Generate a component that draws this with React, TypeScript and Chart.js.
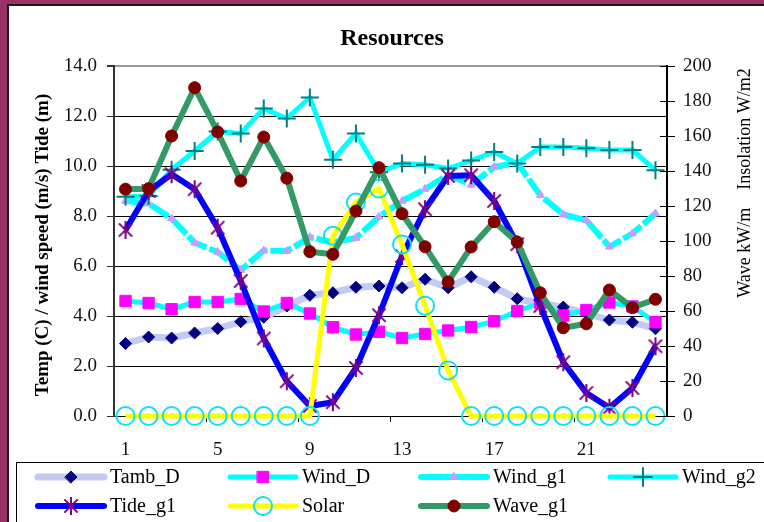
import React, { useEffect, useRef } from 'react';
import { Chart, registerables } from 'chart.js';
import { drawPoint } from 'chart.js/helpers';

Chart.register(...registerables);

const hours = ['1','2','3','4','5','6','7','8','9','10','11','12','13','14','15','16','17','18','19','20','21','22','23','24'];

const tambD = [2.9, 3.16, 3.12, 3.32, 3.5, 3.77, 3.95, 4.4, 4.83, 4.93, 5.15, 5.2, 5.13, 5.47, 5.13, 5.57, 5.15, 4.69, 4.5, 4.36, 4.1, 3.84, 3.75, 3.49];
const windD = [4.6, 4.52, 4.27, 4.56, 4.56, 4.68, 4.18, 4.52, 4.1, 3.55, 3.26, 3.37, 3.12, 3.28, 3.42, 3.56, 3.79, 4.2, 4.52, 4.02, 4.24, 4.54, 4.38, 3.75];
const windG1 = [8.6, 8.5, 7.9, 6.93, 6.56, 5.84, 6.62, 6.6, 7.15, 6.95, 7.12, 7.97, 8.6, 9.08, 9.65, 9.25, 9.96, 10.13, 8.83, 8.06, 7.83, 6.77, 7.3, 8.1];
const windG2 = [8.77, 8.8, 9.85, 10.6, 11.38, 11.3, 12.3, 11.9, 12.74, 10.25, 11.3, 9.75, 10.1, 10.05, 9.9, 10.22, 10.56, 10.1, 10.76, 10.76, 10.71, 10.64, 10.64, 9.83];
const tideG1 = [7.44, 9.0, 9.67, 9.07, 7.53, 5.4, 3.1, 1.39, 0.4, 0.55, 1.92, 4.03, 6.4, 8.27, 9.6, 9.63, 8.6, 6.87, 4.4, 2.15, 0.92, 0.33, 1.12, 2.79];
const solar = [0, 0, 0, 0, 0, 0, 0, 0, 0, 103, 122, 130, 98, 63, 26, 0, 0, 0, 0, 0, 0, 0, 0, 0];
const waveG1 = [129.6, 129.9, 160, 187.6, 162.3, 134.3, 159.4, 135.9, 93.9, 92.4, 117.1, 141.9, 115.6, 96.7, 76.6, 96.6, 111, 99.4, 70.4, 50.4, 52.7, 72, 61.9, 66.7];

const leftTicks = [0, 2, 4, 6, 8, 10, 12, 14];
const rightTicks = [0, 20, 40, 60, 80, 100, 120, 140, 160, 180, 200];

const seriesNames = ['Tamb_D', 'Wind_D', 'Wind_g1', 'Wind_g2', 'Tide_g1', 'Solar', 'Wave_g1'];

const titleText = 'Resources';
const leftTitle = 'Temp (C) / wind speed (m/s) Tide (m)';
const rightTitle = 'Wave kW/m    Insolation W/m2';

const FONT = "'Liberation Serif', 'Times New Roman', serif";

function makeAsterisk(r: number, color: string, lw: number) {
  const c = document.createElement('canvas');
  const s = Math.ceil(2 * r + lw + 2);
  c.width = s;
  c.height = s;
  const g = c.getContext('2d')!;
  const m = s / 2;
  g.strokeStyle = color;
  g.lineWidth = lw;
  g.beginPath();
  g.moveTo(m, m - r);
  g.lineTo(m, m + r);
  const d = r * 0.74;
  g.moveTo(m - d, m - d);
  g.lineTo(m + d, m + d);
  g.moveTo(m - d, m + d);
  g.lineTo(m + d, m - d);
  g.stroke();
  return c;
}

const framePlugin = {
  id: 'frame',
  beforeDraw(chart: any) {
    const ctx = chart.ctx;
    const W = chart.width, H = chart.height;
    ctx.save();
    ctx.fillStyle = '#993366';
    ctx.fillRect(0, 0, W, H);
    ctx.fillStyle = '#1a1a1a';
    ctx.fillRect(7, 4, W, H);
    ctx.fillStyle = '#ffffff';
    ctx.fillRect(9, 6, W, H);
    ctx.restore();
  },
};

const decorPlugin = {
  id: 'decor',
  afterDraw(chart: any) {
    const ctx = chart.ctx;
    const ca = chart.chartArea;
    ctx.save();
    // title
    ctx.fillStyle = '#000';
    ctx.font = `bold 24px ${FONT}`;
    ctx.textAlign = 'center';
    ctx.textBaseline = 'alphabetic';
    ctx.fillText(titleText, 392, 45);

    // left axis title
    ctx.save();
    ctx.translate(43, 245);
    ctx.rotate(-Math.PI / 2);
    ctx.font = `bold 19px ${FONT}`;
    ctx.textAlign = 'center';
    ctx.textBaseline = 'middle';
    ctx.fillText(leftTitle, 0, 0);
    ctx.restore();

    // right axis title
    ctx.save();
    ctx.translate(745, 183);
    ctx.rotate(-Math.PI / 2);
    ctx.font = `18px ${FONT}`;
    ctx.textAlign = 'center';
    ctx.textBaseline = 'middle';
    ctx.fillText(rightTitle, 0, 0);
    ctx.restore();

    // right axis inner tick stubs
    const y1 = chart.scales.y1;
    ctx.strokeStyle = '#000';
    ctx.lineWidth = 1;
    ctx.beginPath();
    rightTicks.forEach((v) => {
      const y = Math.round(y1.getPixelForValue(v)) + 0.5;
      ctx.moveTo(ca.right - 7, y);
      ctx.lineTo(ca.right, y);
    });
    ctx.stroke();

    // legend
    ctx.strokeStyle = '#000';
    ctx.lineWidth = 1;
    ctx.strokeRect(16.5, 462.5, 800, 100);
    const cols = [35, 227, 418, 607];
    const rows = [477, 506];
    const sampleLen = 72;
    chart.data.datasets.forEach((ds: any, i: number) => {
      const x0 = cols[i % 4];
      const y = rows[Math.floor(i / 4)];
      ctx.save();
      ctx.strokeStyle = ds.borderColor;
      ctx.lineWidth = ds.borderWidth;
      ctx.lineCap = 'round';
      ctx.setLineDash(ds.borderDash || []);
      ctx.beginPath();
      ctx.moveTo(x0 + 3, y);
      ctx.lineTo(x0 + sampleLen - 3, y);
      ctx.stroke();
      ctx.setLineDash([]);
      ctx.fillStyle = ds.pointBackgroundColor;
      ctx.strokeStyle = ds.pointBorderColor;
      ctx.lineWidth = ds.pointBorderWidth;
      drawPoint(ctx, { pointStyle: ds.pointStyle, radius: ds.pointRadius, rotation: 0, borderWidth: ds.pointBorderWidth }, x0 + sampleLen / 2, y);
      ctx.restore();
      ctx.fillStyle = '#000';
      ctx.font = `20px ${FONT}`;
      ctx.textAlign = 'left';
      ctx.textBaseline = 'middle';
      ctx.fillText(ds.label, x0 + sampleLen + 3, y + 1);
    });
    ctx.restore();
  },
};

export default function App() {
  const ref = useRef<HTMLCanvasElement | null>(null);

  useEffect(() => {
    if (!ref.current) return;
    const asterisk = makeAsterisk(9, '#800080', 2);
    const common = { fill: false, tension: 0, clip: false as any, borderJoinStyle: 'round' as const };
    const chart = new Chart(ref.current, {
      type: 'line',
      data: {
        labels: hours,
        datasets: [
          { ...common, label: seriesNames[0], data: tambD, yAxisID: 'y', borderColor: '#C3CBF3', borderWidth: 7, pointStyle: 'rectRot', pointRadius: 6, pointBackgroundColor: '#000080', pointBorderColor: '#000080', pointBorderWidth: 1, order: 7 },
          { ...common, label: seriesNames[1], data: windD, yAxisID: 'y', borderColor: '#00FFFF', borderWidth: 5, pointStyle: 'rect', pointRadius: 8, pointBackgroundColor: '#FF00FF', pointBorderColor: '#FF00FF', pointBorderWidth: 1, order: 6 },
          { ...common, label: seriesNames[2], data: windG1, yAxisID: 'y', borderColor: '#00FFFF', borderWidth: 6, borderDash: [22, 3], pointStyle: 'triangle', pointRadius: 4.5, pointBackgroundColor: '#CC99FF', pointBorderColor: '#CC99FF', pointBorderWidth: 1, order: 5 },
          { ...common, label: seriesNames[3], data: windG2, yAxisID: 'y', borderColor: '#00FFFF', borderWidth: 5, pointStyle: 'cross', pointRadius: 9, pointBackgroundColor: '#008080', pointBorderColor: '#008080', pointBorderWidth: 2, order: 4 },
          { ...common, label: seriesNames[4], data: tideG1, yAxisID: 'y', borderColor: '#0000FF', borderWidth: 6, pointStyle: asterisk as any, pointRadius: 9, pointBackgroundColor: '#800080', pointBorderColor: '#800080', pointBorderWidth: 2, order: 3 },
          { ...common, label: seriesNames[5], data: solar, yAxisID: 'y1', borderColor: '#FFFF00', borderWidth: 5, pointStyle: 'circle', pointRadius: 9, pointBackgroundColor: 'rgba(0,0,0,0)', pointBorderColor: '#10E0F0', pointBorderWidth: 2, order: 2 },
          { ...common, label: seriesNames[6], data: waveG1, yAxisID: 'y1', borderColor: '#339966', borderWidth: 6, pointStyle: 'circle', pointRadius: 6, pointBackgroundColor: '#800000', pointBorderColor: '#800000', pointBorderWidth: 1, order: 1 },
        ] as any,
      },
      options: {
        responsive: false,
        animation: false,
        devicePixelRatio: 1,
        layout: { padding: { top: 66, left: 0, right: 0, bottom: 0 } },
        plugins: { legend: { display: false }, title: { display: false }, tooltip: { enabled: false } },
        scales: {
          x: {
            type: 'category',
            offset: true,
            afterFit: (s: any) => { s.height = 106; },
            grid: {
              offset: true,
              drawOnChartArea: false,
              drawTicks: true,
              tickLength: 6,
              color: (c: any) => (c.index % 4 === 0 && c.index > 0 && c.index < 24 ? '#000' : 'rgba(0,0,0,0)'),
            },
            border: { display: true, color: '#000', width: 1 },
            ticks: {
              autoSkip: false,
              maxRotation: 0,
              minRotation: 0,
              padding: 17,
              color: '#111',
              font: { family: FONT, size: 19 },
              callback: (_v: any, i: number) => (i % 4 === 0 ? hours[i] : ''),
            },
          },
          y: {
            position: 'left',
            min: 0,
            max: 14,
            afterFit: (s: any) => { s.width = 114; },
            afterBuildTicks: (s: any) => { s.ticks = leftTicks.map((v) => ({ value: v })); },
            grid: {
              color: (c: any) => (c.tick && c.tick.value === 14 ? '#9a9a9a' : '#000'),
              lineWidth: (c: any) => (c.tick && c.tick.value === 14 ? 2 : 1),
              tickColor: '#333',
              tickLength: 7,
            },
            border: { display: true, color: '#333', width: 2 },
            ticks: {
              padding: 10,
              color: '#111',
              font: { family: FONT, size: 19 },
              callback: (v: any) => Number(v).toFixed(1),
            },
          },
          y1: {
            position: 'right',
            min: 0,
            max: 200,
            afterFit: (s: any) => { s.width = 97; },
            afterBuildTicks: (s: any) => { s.ticks = rightTicks.map((v) => ({ value: v })); },
            grid: { drawOnChartArea: false, color: '#000', tickLength: 8 },
            border: { display: true, color: '#000', width: 2 },
            ticks: {
              padding: 8,
              color: '#111',
              font: { family: FONT, size: 19 },
              callback: (v: any) => String(v),
            },
          },
        },
      } as any,
      plugins: [framePlugin, decorPlugin],
    });
    return () => chart.destroy();
  }, []);

  return (
    <div style={{ position: 'fixed', left: 0, top: 0, width: 764, height: 522, overflow: 'hidden', background: '#993366' }}>
      <canvas ref={ref} width={764} height={522} style={{ width: 764, height: 522, display: 'block' }} />
    </div>
  );
}
